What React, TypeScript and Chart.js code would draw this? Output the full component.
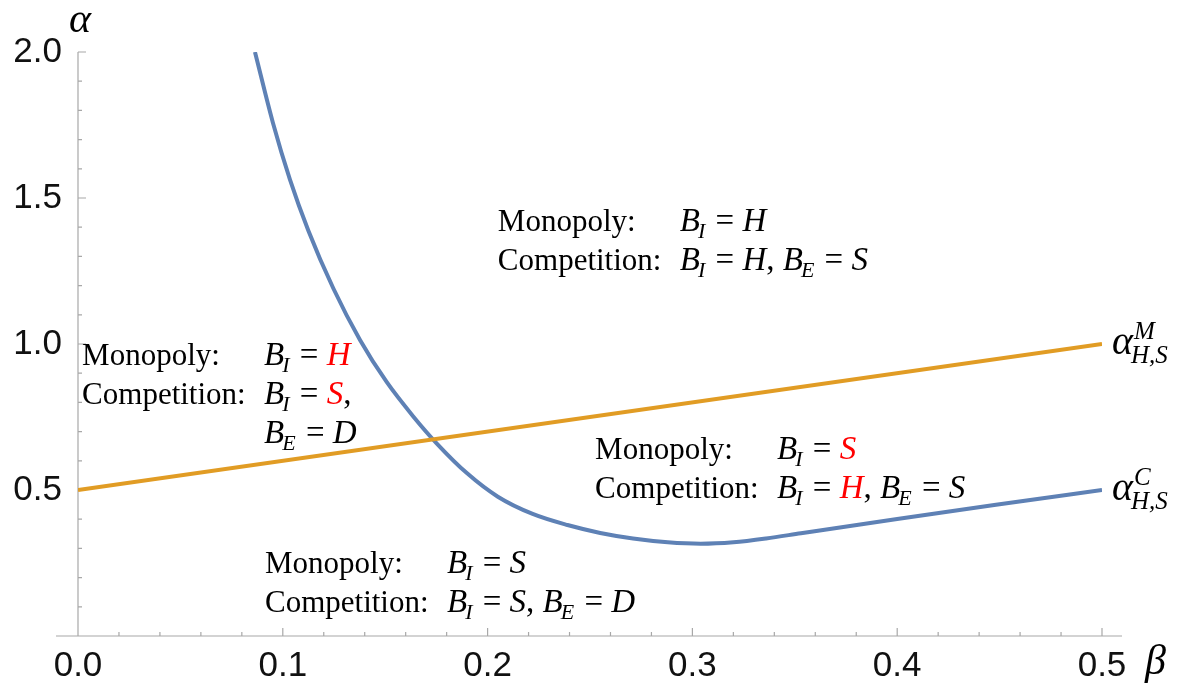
import React, { useEffect, useRef } from "react";
import { Chart, registerables } from "chart.js";

Chart.register(...registerables);

// ---- data ----
const BETA_TICK_STEP = 0.1;
const ALPHA_TICK_STEP = 0.5;

// alpha^C_{H,S} (blue curve)
const betaC = [
  0.0864, 0.0952, 0.1035, 0.1125, 0.1247, 0.1377, 0.1507, 0.1637, 0.1751,
  0.19, 0.205, 0.222, 0.239, 0.255, 0.271, 0.288, 0.304, 0.32, 0.336, 0.353,
  0.4, 0.45, 0.5,
];
const alphaC = [
  2.0, 1.757, 1.563, 1.388, 1.19, 1.014, 0.87, 0.752, 0.66, 0.557, 0.477,
  0.418, 0.38, 0.353, 0.334, 0.321, 0.316, 0.321, 0.334, 0.352, 0.401, 0.451,
  0.5,
];

// alpha^M_{H,S} (orange line)
const betaM = [0, 0.5];
const alphaM = [0.5, 1.0];

// region annotations (anchor: left edge / first baseline, in data coords)
const regionBeta = [0.205, 0.002, 0.2525, 0.0913];
const regionAlpha = [1.387, 0.928, 0.606, 0.216];
const regionRows: string[][][] = [
  [
    ["Monopoly:", "B_I = H"],
    ["Competition:", "B_I = H, B_E = S"],
  ],
  [
    ["Monopoly:", "B_I = {H}"],
    ["Competition:", "B_I = {S},"],
    ["", "B_E = D"],
  ],
  [
    ["Monopoly:", "B_I = {S}"],
    ["Competition:", "B_I = {H}, B_E = S"],
  ],
  [
    ["Monopoly:", "B_I = S"],
    ["Competition:", "B_I = S, B_E = D"],
  ],
];

const curveLabelSup = ["M", "C"];
const curveLabelSub = "H,S";

const BLUE = "#5E81B5";
const ORANGE = "#E19C24";
const AXIS = "#a8a8a8";
const SERIF = "'Liberation Serif', 'Times New Roman', serif";
const SANS = "'Liberation Sans', Arial, sans-serif";

function drawRich(ctx: CanvasRenderingContext2D, text: string, x: number, y: number, size: number) {
  const toks = text.match(/B_[IE]|\{[A-Z]\}|[A-Z]|[^A-Z{}]+/g) || [];
  const subSize = Math.round(size * 0.66);
  for (const t of toks) {
    if (t.startsWith("B_")) {
      ctx.fillStyle = "#000";
      ctx.font = `italic ${size}px ${SERIF}`;
      ctx.fillText("B", x, y);
      x += ctx.measureText("B").width;
      ctx.font = `italic ${subSize}px ${SERIF}`;
      ctx.fillText(t[2], x - 2, y + 7);
      x += ctx.measureText(t[2]).width;
    } else if (t.startsWith("{")) {
      ctx.fillStyle = "#ff0000";
      ctx.font = `italic ${size}px ${SERIF}`;
      const c = t[1];
      ctx.fillText(c, x, y);
      x += ctx.measureText(c).width;
    } else if (/^[A-Z]$/.test(t)) {
      ctx.fillStyle = "#000";
      ctx.font = `italic ${size}px ${SERIF}`;
      ctx.fillText(t, x, y);
      x += ctx.measureText(t).width;
    } else {
      ctx.fillStyle = "#000";
      ctx.font = `${size}px ${SERIF}`;
      ctx.fillText(t, x, y);
      x += ctx.measureText(t).width;
    }
  }
}

const decorPlugin = {
  id: "decor",
  beforeDatasetsDraw(chart: any) {
    const { ctx, chartArea, scales } = chart;
    const xs = scales.x;
    const ys = scales.y;
    ctx.save();
    ctx.strokeStyle = AXIS;
    ctx.lineWidth = 1.2;
    const y0 = ys.getPixelForValue(0);
    const x0 = xs.getPixelForValue(0);
    ctx.beginPath();
    ctx.moveTo(chartArea.left - 22, y0);
    ctx.lineTo(chartArea.right + 20, y0);
    ctx.moveTo(x0, y0);
    ctx.lineTo(x0, ys.getPixelForValue(2.0));
    for (let i = 0; i <= 25; i++) {
      const px = xs.getPixelForValue(i * 0.02);
      const len = i % 5 === 0 ? 8 : 4;
      ctx.moveTo(px, y0);
      ctx.lineTo(px, y0 - len);
    }
    for (let i = 1; i <= 20; i++) {
      const py = ys.getPixelForValue(i * 0.1);
      const len = i % 5 === 0 ? 8 : 4;
      ctx.moveTo(x0, py);
      ctx.lineTo(x0 + len, py);
    }
    ctx.stroke();
    ctx.restore();
  },
  afterDatasetsDraw(chart: any) {
    const { ctx, chartArea, scales } = chart;
    const xs = scales.x;
    const ys = scales.y;
    ctx.save();
    ctx.textBaseline = "alphabetic";
    ctx.textAlign = "left";
    const size = 33;
    const TAB = 182;
    const LINE = 39;
    regionRows.forEach((rows, k) => {
      const lx = xs.getPixelForValue(regionBeta[k]);
      const by = ys.getPixelForValue(regionAlpha[k]);
      rows.forEach((row, r) => {
        const y = by + r * LINE;
        if (row[0]) {
          ctx.fillStyle = "#000";
          ctx.font = `31px ${SERIF}`;
          ctx.fillText(row[0], lx, y);
        }
        drawRich(ctx, row[1], lx + TAB, y, size);
      });
    });

    // curve labels
    const ends = [
      [betaM[betaM.length - 1], alphaM[alphaM.length - 1]],
      [betaC[betaC.length - 1], alphaC[alphaC.length - 1]],
    ];
    ends.forEach((e, k) => {
      const px = xs.getPixelForValue(e[0]) + 10;
      const py = ys.getPixelForValue(e[1]) + 10;
      ctx.fillStyle = "#000";
      ctx.font = `italic 40px ${SERIF}`;
      ctx.fillText("α", px, py);
      const w = ctx.measureText("α").width;
      ctx.font = `italic 25px ${SERIF}`;
      ctx.fillText(curveLabelSup[k], px + w + 1, py - 15);
      ctx.fillText(curveLabelSub, px + w - 2, py + 9);
    });

    // axis labels
    ctx.font = `italic 42px ${SERIF}`;
    ctx.fillText("α", chartArea.left - 9, 32);
    ctx.fillText("β", chartArea.right + 43, 674);
    ctx.restore();
  },
};

export default function App() {
  const ref = useRef<HTMLCanvasElement | null>(null);
  useEffect(() => {
    document.body.style.margin = "0";
    const canvas = ref.current!;
    const chart = new Chart(canvas, {
      type: "scatter",
      data: {
        datasets: [
          {
            data: betaM.map((b, i) => ({ x: b, y: alphaM[i] })),
            showLine: true,
            borderColor: ORANGE,
            backgroundColor: ORANGE,
            borderWidth: 4,
            pointRadius: 0,
            order: 1,
          },
          {
            data: betaC.map((b, i) => ({ x: b, y: alphaC[i] })),
            showLine: true,
            borderColor: BLUE,
            backgroundColor: BLUE,
            borderWidth: 4,
            pointRadius: 0,
            cubicInterpolationMode: "monotone",
            order: 2,
          },
        ],
      },
      options: {
        responsive: false,
        animation: false,
        events: [],
        layout: { padding: { top: 52, right: 80, left: 0, bottom: 0 } },
        plugins: { legend: { display: false }, tooltip: { enabled: false } },
        scales: {
          x: {
            type: "linear",
            min: 0,
            max: 0.5,
            grid: { display: false, drawTicks: false },
            border: { display: false },
            ticks: {
              stepSize: BETA_TICK_STEP,
              autoSkip: false,
              maxRotation: 0,
              padding: 9,
              color: "#111",
              font: { family: SANS, size: 35 },
              callback: (v: any) => Number(v).toFixed(1),
            },
            afterFit: (s: any) => {
              s.height = 52;
            },
          },
          y: {
            type: "linear",
            min: 0,
            max: 2,
            grid: { display: false, drawTicks: false },
            border: { display: false },
            ticks: {
              stepSize: ALPHA_TICK_STEP,
              autoSkip: false,
              padding: 16,
              color: "#111",
              font: { family: SANS, size: 35 },
              callback: (v: any) => (Number(v) === 0 ? "" : Number(v).toFixed(1)),
            },
            afterFit: (s: any) => {
              s.width = 78;
            },
          },
        },
      },
      plugins: [decorPlugin],
    } as any);
    return () => chart.destroy();
  }, []);
  return <canvas ref={ref} width={1182} height={688} style={{ display: "block" }} />;
}
